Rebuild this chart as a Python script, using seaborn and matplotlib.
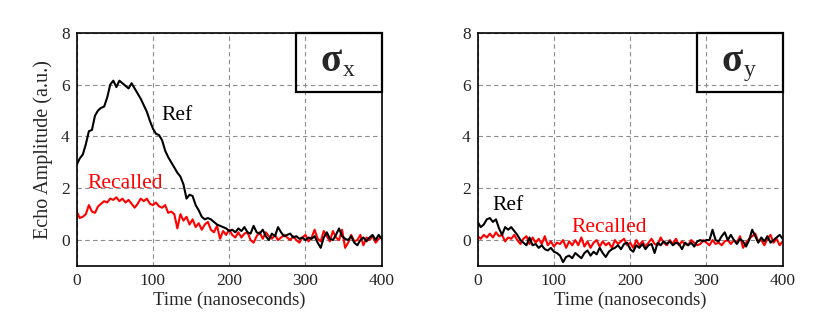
import numpy as np
import pandas as pd
import matplotlib
matplotlib.use("Agg")
import matplotlib.pyplot as plt
import seaborn as sns

# time axis, 4 ns steps
time_ns = list(range(0, 401, 4))

# sigma_x panel
ref_x = [2.9, 3.15, 3.3, 3.7, 4.2, 4.25, 4.8, 5.0, 5.1, 5.15,
         5.5, 6.0, 6.15, 5.9, 6.15, 6.05, 5.95, 5.85, 6.05, 5.85,
         5.65, 5.45, 5.2, 4.95, 4.6, 4.3, 4.1, 4.05, 3.85, 3.45,
         3.2, 3.0, 2.8, 2.6, 2.45, 2.15, 1.6, 1.75, 1.7, 1.35,
         1.15, 0.9, 0.8, 0.85, 0.8, 0.7, 0.6, 0.55, 0.5, 0.45,
         0.35, 0.4, 0.3, 0.45, 0.35, 0.5, 0.3, 0.25, 0.55, 0.3,
         0.25, 0.4, 0.15, 0.0, 0.25, 0.15, 0.5, 0.3, 0.15, 0.2,
         0.25, 0.1, 0.15, 0.05, 0.1, 0.0, 0.1, 0.05, 0.15, -0.1,
         -0.3, 0.1, 0.3, 0.05, 0.0, 0.2, 0.45, 0.15, 0.05, 0.0,
         0.15, -0.1, -0.2, 0.0, 0.1, -0.05, 0.1, 0.2, 0.0, 0.2,
         0.05]
rec_x = [1.1, 0.85, 0.9, 1.0, 1.35, 1.1, 1.05, 1.3, 1.4, 1.5,
         1.45, 1.6, 1.55, 1.65, 1.5, 1.6, 1.45, 1.55, 1.4, 1.25,
         1.4, 1.6, 1.5, 1.6, 1.4, 1.35, 1.45, 1.3, 1.25, 1.35,
         1.05, 1.1, 1.0, 0.45, 1.0, 0.75, 0.9, 0.6, 0.8, 0.5,
         0.65, 0.4, 0.6, 0.7, 0.4, 0.3, 0.55, 0.05, 0.35, 0.2,
         0.4, 0.2, 0.1, 0.3, 0.1, 0.25, 0.3, 0.0, -0.1, 0.15,
         0.3, 0.05, 0.3, 0.15, 0.05, 0.2, 0.0, 0.1, 0.2, 0.1,
         0.0, 0.15, 0.0, -0.1, 0.1, 0.2, -0.05, 0.1, 0.4, 0.05,
         -0.05, 0.35, 0.15, -0.05, 0.35, 0.1, 0.0, 0.4, -0.3, -0.1,
         0.2, -0.05, 0.0, 0.2, -0.2, 0.1, 0.0, 0.15, -0.1, 0.05,
         0.1]

# sigma_y panel
ref_y = [0.7, 0.5, 0.6, 0.8, 0.85, 0.7, 0.8, 0.45, 0.2, 0.5,
         0.4, 0.5, 0.35, 0.2, 0.0, -0.1, -0.2, 0.1, -0.2, -0.15,
         -0.3, -0.2, -0.35, -0.4, -0.3, -0.45, -0.5, -0.6, -0.85, -0.65,
         -0.6, -0.7, -0.5, -0.6, -0.7, -0.5, -0.4, -0.6, -0.45, -0.55,
         -0.3, -0.5, -0.65, -0.45, -0.35, -0.3, -0.2, -0.35, -0.15, -0.1,
         -0.35, -0.45, -0.2, -0.3, -0.15, -0.35, -0.2, -0.15, -0.5, -0.1,
         -0.2, -0.05, -0.15, -0.05, -0.2, -0.1, -0.15, -0.35, -0.1, -0.2,
         -0.1, -0.25, -0.05, 0.0, -0.05, 0.0, 0.0, 0.4, 0.0, -0.05,
         0.15, 0.3, 0.0, 0.2, 0.0, -0.15, 0.05, -0.05, -0.25, 0.0,
         0.4, 0.15, -0.1, 0.1, -0.05, 0.15, -0.1, 0.0, 0.1, 0.2,
         0.05]
rec_y = [0.15, 0.05, 0.2, 0.1, 0.25, 0.1, 0.3, 0.15, 0.2, -0.05,
         0.1, 0.05, 0.2, 0.0, -0.15, 0.05, 0.15, -0.15, 0.1, -0.1,
         0.05, -0.15, 0.15, -0.2, -0.05, -0.25, -0.1, -0.15, 0.0, -0.3,
         -0.05, -0.2, 0.0, -0.2, 0.1, -0.25, -0.05, -0.3, -0.1, 0.0,
         -0.25, -0.05, -0.2, -0.1, -0.3, 0.0, -0.15, -0.05, 0.05, -0.2,
         -0.1, -0.3, 0.0, -0.2, -0.05, -0.25, -0.1, 0.05, -0.15, -0.2,
         0.1, -0.1, -0.2, 0.0, -0.15, 0.05, -0.2, -0.05, -0.15, -0.2,
         0.0, -0.1, -0.2, -0.15, 0.0, -0.1, -0.2, 0.0, -0.15, -0.1,
         -0.2, -0.05, 0.0, -0.15, 0.0, -0.1, 0.15, -0.3, -0.1, 0.05,
         0.15, 0.25, -0.05, 0.0, -0.2, 0.05, 0.2, -0.1, 0.05, -0.2,
         -0.05]

sns.set_style("white")
plt.rcParams['font.family'] = ['Liberation Serif', 'DejaVu Serif']

fig = plt.figure(figsize=(8.3, 3.36), dpi=100)
ax1 = fig.add_axes([0.0924, 0.2083, 0.3675, 0.6944])
ax2 = fig.add_axes([0.5755, 0.2083, 0.3675, 0.6944])

panels = [
    (ax1, ref_x, rec_x, "x", (132, 4.8), (63, 2.2)),
    (ax2, ref_y, rec_y, "y", (40, 1.35), (172, 0.5)),
]

for ax, ref, rec, sub, ref_pos, rec_pos in panels:
    df = pd.DataFrame({"t": time_ns, "Ref": ref, "Recalled": rec})
    sns.lineplot(data=df, x="t", y="Recalled", ax=ax, color="red", lw=1.5)
    sns.lineplot(data=df, x="t", y="Ref", ax=ax, color="black", lw=1.5)
    ax.set_xlim(0, 400)
    ax.set_ylim(-1, 8)
    ax.set_xticks([0, 100, 200, 300, 400])
    ax.set_yticks([0, 2, 4, 6, 8])
    ax.grid(True, color="#8c8c8c", linestyle=(0, (4, 3)), lw=0.8)
    for s in ax.spines.values():
        s.set_color("black")
        s.set_linewidth(1.2)
    ax.tick_params(direction="in", length=3, labelsize=12.5, pad=5)
    ax.set_xlabel("Time (nanoseconds)", fontsize=13.5, labelpad=2)
    ax.set_ylabel("")
    ax.text(ref_pos[0], ref_pos[1], "Ref", fontsize=15.5, color="black",
            ha="center", va="center")
    ax.text(rec_pos[0], rec_pos[1], "Recalled", fontsize=15.5, color="red",
            ha="center", va="center")
    ax.text(348, 6.9, "σ", fontsize=28, fontweight="bold",
            ha="right", va="center")
    ax.text(349, 6.55, sub, fontsize=17, ha="left", va="center")
    ax.add_patch(plt.Rectangle((287, 5.73), 113, 2.27, fill=False,
                               ec="black", lw=1.6, clip_on=False, zorder=5))

ax1.set_ylabel("Echo Amplitude (a.u.)", fontsize=14.5, labelpad=6)

fig.savefig("out.png", dpi=100)
